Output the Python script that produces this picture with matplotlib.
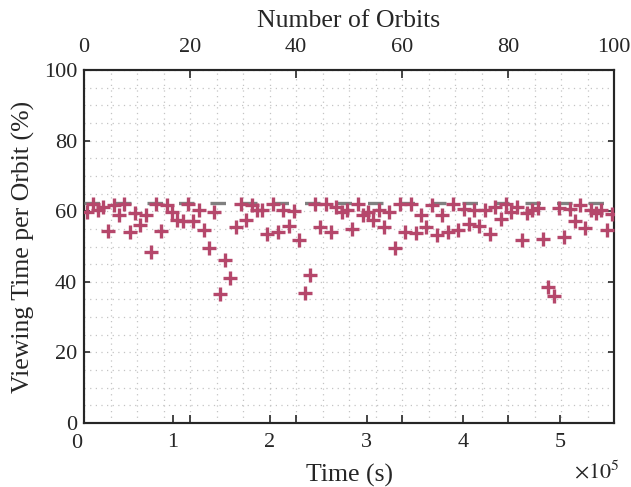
import numpy as np
import matplotlib
matplotlib.use("Agg")
from matplotlib import pyplot as plt
from matplotlib.ticker import MultipleLocator, FixedLocator

plt.rcParams['font.family'] = ['Liberation Serif', 'DejaVu Serif']
plt.rcParams['mathtext.fontset'] = 'stix'

# orbit timing (s)
period = 5478.0
t_left = 8010.0
t_right = 555810.0
first_pass = 11406.0

# viewing time per orbit (%), one value per orbit
viewing = [59.8, 62.1, 60.4, 61.3, 54.4, 61.7, 58.8, 62.1, 54.1, 59.4,
           56.0, 58.9, 48.5, 62.1, 54.4, 61.7, 59.8, 57.4, 57.1, 62.1,
           57.1, 60.4, 54.8, 49.6, 59.8, 36.5, 46.1, 41.2, 55.4, 62.1,
           57.6, 61.7, 60.3, 60.4, 53.4, 61.9, 54.1, 60.4, 55.7, 60.0,
           51.9, 36.8, 41.8, 62.1, 55.4, 61.9, 54.1, 61.2, 59.8, 60.4,
           54.9, 61.9, 58.9, 59.8, 57.6, 60.3, 55.4, 59.8, 49.7, 62.1,
           54.1, 62.1, 53.8, 58.9, 55.4, 61.7, 53.2, 58.9, 54.1, 61.9,
           54.6, 60.7, 56.5, 60.4, 55.7, 60.4, 53.4, 61.2, 57.9, 62.1,
           59.8, 61.2, 51.9, 59.4, 60.3, 60.8, 52.2, 38.6, 35.9, 61.0,
           52.7, 60.7, 57.1, 61.7, 55.3, 60.3, 59.5, 60.3, 54.6, 59.1]
max_viewing = 62.2

times = first_pass + period * np.arange(len(viewing))

dark = '#262626'
grid_style = dict(linestyle=(0, (1, 3.5)), color='#c4c4c4', linewidth=0.9)

fig = plt.figure(figsize=(6.31, 4.87), dpi=100)
ax = fig.add_axes([84 / 631, 1 - 423 / 487, 530 / 631, 353 / 487])
ax2 = ax.twiny()
ax2.set_zorder(0)
ax.set_zorder(1)
ax.patch.set_visible(False)

# top axis: orbits, carries the vertical grid
ax2.set_xlim(0, 100)
ax2.xaxis.set_major_locator(MultipleLocator(20))
ax2.xaxis.set_minor_locator(MultipleLocator(5))
ax2.grid(True, which='both', axis='x', **grid_style)
ax2.tick_params(axis='x', which='major', direction='in', top=True, bottom=True,
                labeltop=True, labelbottom=False, length=5.5, width=1.2,
                labelsize=16, colors=dark, pad=9)
ax2.tick_params(axis='x', which='minor', length=0)
ax2.set_xlabel('Number of Orbits', fontsize=18.5, color=dark, labelpad=8)

# main axes: time vs viewing
ax.plot([t_left, t_right], [max_viewing, max_viewing], linestyle='--',
        dashes=(4.65, 4.8), color='#808080', linewidth=2.4, zorder=3)
ax.plot(times, viewing, linestyle='none', marker='+', markersize=10.5,
        markeredgewidth=2.4, color='#b5476b', zorder=4)

ax.set_xlim(t_left, t_right)
ax.set_ylim(0, 100)
ax.xaxis.set_major_locator(FixedLocator([1e5, 2e5, 3e5, 4e5, 5e5]))
ax.set_xticklabels(['1', '2', '3', '4', '5'])
ax.yaxis.set_major_locator(MultipleLocator(20))
ax.yaxis.set_minor_locator(MultipleLocator(5))
ax.grid(True, which='both', axis='y', **grid_style)
ax.set_axisbelow(True)
ax.tick_params(axis='x', which='major', direction='in', top=False, bottom=True,
               length=5.5, width=1.2, labelsize=16, colors=dark, pad=7)
ax.tick_params(axis='y', which='major', direction='in', left=True, right=True,
               length=4, width=1.2, labelsize=16, colors=dark, pad=5)
ax.tick_params(axis='y', which='minor', length=0)
ax.set_ylabel('Viewing Time per Orbit (%)', fontsize=18.5, color=dark, labelpad=6)
ax.set_xlabel('Time (s)', fontsize=18.5, color=dark, labelpad=9)

# zero label at time origin (just left of the plotted range)
ax.text(0, -0.03, '0', transform=ax.get_xaxis_transform(), ha='center', va='top',
        fontsize=16, color=dark, clip_on=False)
ax.text(1.01, -0.158, r'$\times 10^{5}$', transform=ax.transAxes, ha='right',
        va='baseline', fontsize=16, color=dark)

for a in (ax, ax2):
    for s in a.spines.values():
        s.set_linewidth(1.5)
        s.set_color(dark)

fig.savefig('out.png', dpi=100)
